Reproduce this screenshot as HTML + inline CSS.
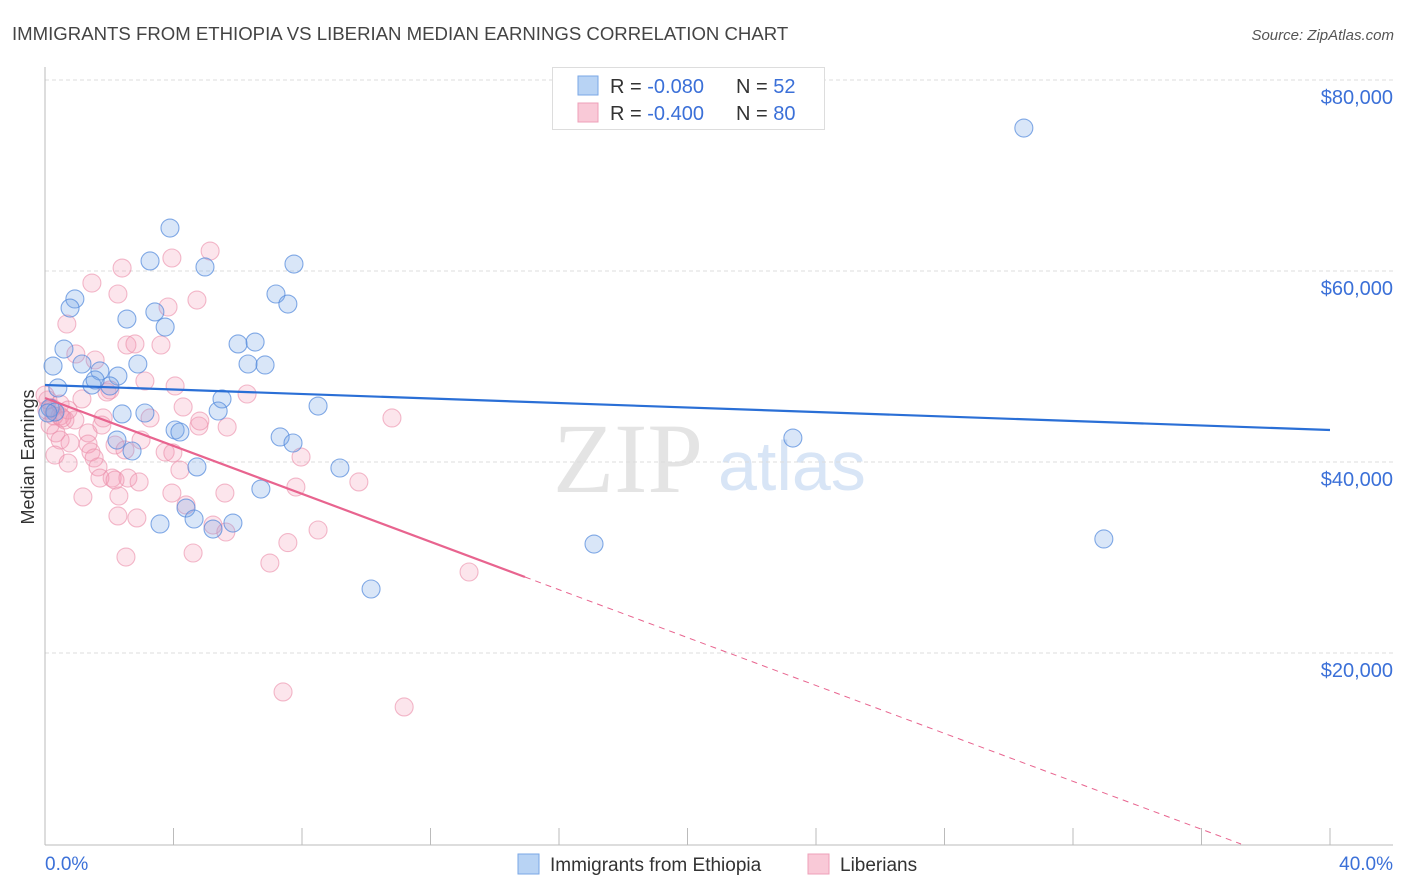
<!DOCTYPE html>
<html><head><meta charset="utf-8"><style>
body{margin:0;background:#fff;font-family:"Liberation Sans",sans-serif;}
#wrap{position:relative;width:1406px;height:892px;overflow:hidden;}
</style></head><body>
<div id="wrap">
<svg id="chart" width="1406" height="892"></svg>
</div>
<script>
const blueX=[30.47,3.89,3.27,4.98,7.75,0.93,0.78,7.19,7.56,2.55,3.42,3.74,0.59,6.01,6.54,0.25,1.15,2.89,6.32,6.85,1.71,2.27,1.46,2.02,0.40,1.56,5.51,8.50,2.40,3.11,5.39,4.05,4.20,2.24,7.32,7.72,23.28,2.71,4.73,9.18,6.72,4.39,4.64,3.58,5.23,5.85,17.09,32.96,10.15,0.16,0.31,0.09];
const blueY=[74970,64500,61050,60420,60730,57070,56120,57590,56540,54970,55710,54130,51830,52360,52560,50050,50260,50260,50260,50160,49530,49000,48060,47960,47750,48590,46600,45860,45030,45130,45340,43350,43140,42300,42620,41990,42510,41150,39480,39370,37170,35180,34030,33510,32980,33610,31410,31940,26700,45650,45230,45130];
const pinkX=[5.14,3.95,2.40,1.46,2.27,3.83,4.73,0.68,2.55,2.80,3.61,0.96,1.56,3.11,4.05,1.93,1.15,2.02,6.29,10.80,4.30,0.47,0.93,0.62,1.81,3.27,4.79,5.67,1.77,1.34,0.34,0.47,2.99,0.78,1.34,2.18,2.49,1.43,3.74,3.98,0.31,1.53,1.65,4.20,7.97,0.72,2.09,2.58,2.93,1.71,2.18,9.77,5.60,3.95,7.81,1.18,2.30,2.27,2.86,4.39,5.23,5.63,8.50,7.56,4.61,2.52,7.00,13.20,7.41,11.18,0.06,0.22,0.09,0.47,0.72,0.0,0.16,4.82,0.28,0.53];
const pinkY=[62090,61360,60310,58740,57590,56230,56960,54450,52250,52360,52250,51310,50680,48480,47960,47330,46600,47540,47120,44610,45760,44820,44400,44400,44610,44610,43770,43660,43870,43040,43040,42300,42300,41990,41880,41780,41260,41050,41050,40950,40730,40420,39480,39160,40520,39890,38320,38320,37910,38320,38110,37910,36750,36750,37380,36340,36440,34350,34140,35500,33400,32670,32880,31560,30470,30050,29420,28480,15920,14350,45440,45650,46490,46070,45440,47010,43870,44290,44820,44610];
const blueTrend=[48060,43350];
const pinkTrend=[46700,27960];
const pinkSolidEnd=14.94;
const yTicks=[20000,40000,60000,80000];
const yTickLabels=["$20,000","$40,000","$60,000","$80,000"];
const xTicks=[0,4,8,12,16,20,24,28,32,36,40];

const NS="http://www.w3.org/2000/svg";
const svg=document.getElementById('chart');
const X=v=>45+v*32.125;
const Y=v=>844-v/104.71;
function mk(tag,attrs,parent){const e=document.createElementNS(NS,tag);for(const k in attrs)e.setAttribute(k,attrs[k]);(parent||svg).appendChild(e);return e;}

let t=mk('text',{x:12,y:40,'font-size':18.6,fill:'#444'});t.textContent='IMMIGRANTS FROM ETHIOPIA VS LIBERIAN MEDIAN EARNINGS CORRELATION CHART';

t=mk('text',{x:1394,y:40,'font-size':15,fill:'#555','font-style':'italic','text-anchor':'end'});t.textContent='Source: ZipAtlas.com';


t=mk('text',{x:553,y:492,'font-size':100,fill:'#e4e4e4','font-family':'Liberation Serif, serif'});t.textContent='ZIP';

t=mk('text',{x:718,y:490,'font-size':70,fill:'#d8e5f6'});t.textContent='atlas';


mk('line',{x1:45,y1:80,x2:1393,y2:80,stroke:'#ddd','stroke-dasharray':'4,3'});
yTicks.forEach((v,i)=>{
  const g=mk('line',{x1:45,y1:Y(v),x2:1393,y2:Y(v),stroke:'#ddd','stroke-dasharray':'4,3'});
  
  const l=mk('text',{x:1393,y:Y(v)+24,'font-size':20,fill:'#3b70d8','text-anchor':'end'});l.textContent=yTickLabels[i];
  
});
let a=mk('line',{x1:45,y1:67,x2:45,y2:845,stroke:'#bbb'});
a=mk('line',{x1:45,y1:845,x2:1393,y2:845,stroke:'#bbb'});
xTicks.forEach(v=>{const k=mk('line',{x1:X(v),y1:828,x2:X(v),y2:845,stroke:'#bbb'});
  });
t=mk('text',{x:45,y:870,'font-size':19,fill:'#3b70d8'});t.textContent='0.0%';

t=mk('text',{x:1393,y:870,'font-size':19,fill:'#3b70d8','text-anchor':'end'});t.textContent='40.0%';

t=mk('text',{x:34,y:457,'font-size':18,fill:'#333','text-anchor':'middle',transform:'rotate(-90 34 457)'});t.textContent='Median Earnings';


pinkX.forEach((v,i)=>{const c=mk('circle',{cx:X(v),cy:Y(pinkY[i]),r:9,fill:'rgba(244,150,178,0.25)',stroke:'rgba(235,140,168,0.6)','stroke-width':1.1});
  });
blueX.forEach((v,i)=>{const c=mk('circle',{cx:X(v),cy:Y(blueY[i]),r:9,fill:'rgba(120,165,230,0.28)',stroke:'rgba(80,135,220,0.7)','stroke-width':1.1});
  });

let ln=mk('line',{x1:X(0),y1:Y(blueTrend[0]),x2:X(40),y2:Y(blueTrend[1]),stroke:'#2a6fd6','stroke-width':2.2});

const ps=(pinkTrend[1]-pinkTrend[0])/pinkSolidEnd;
ln=mk('line',{x1:X(0),y1:Y(pinkTrend[0]),x2:X(pinkSolidEnd),y2:Y(pinkTrend[1]),stroke:'#e8648f','stroke-width':2.2});

const xZero=-pinkTrend[0]/ps;
ln=mk('line',{x1:X(pinkSolidEnd),y1:Y(pinkTrend[1]),x2:X(xZero),y2:Y(0),stroke:'#e8648f','stroke-width':1,'stroke-dasharray':'6,5'});


const lg=mk('g',{});
mk('rect',{x:552.5,y:67.5,width:272,height:62,fill:'#fff',stroke:'#ddd'},lg);
mk('rect',{x:578,y:76,width:20,height:19,fill:'#b8d3f4',stroke:'#7aa7e6'},lg);
mk('rect',{x:578,y:103,width:20,height:19,fill:'#f9c9d7',stroke:'#eea0b8'},lg);
[['-0.080','52',93],['-0.400','80',120]].forEach(r=>{
  const tt=mk('text',{x:610,y:r[2],'font-size':20,fill:'#333'},lg);
  tt.innerHTML='R = <tspan fill="#3b70d8">'+r[0]+'</tspan><tspan x="736">N = </tspan><tspan fill="#3b70d8">'+r[1]+'</tspan>';
});

const bl=mk('g',{});
mk('rect',{x:518,y:854,width:21,height:20,fill:'#b8d3f4',stroke:'#7aa7e6'},bl);
t=mk('text',{x:550,y:871,'font-size':19,fill:'#333'},bl);t.textContent='Immigrants from Ethiopia';
mk('rect',{x:808,y:854,width:21,height:20,fill:'#f9c9d7',stroke:'#eea0b8'},bl);
t=mk('text',{x:840,y:871,'font-size':19,fill:'#333'},bl);t.textContent='Liberians';
</script>
</body></html>
